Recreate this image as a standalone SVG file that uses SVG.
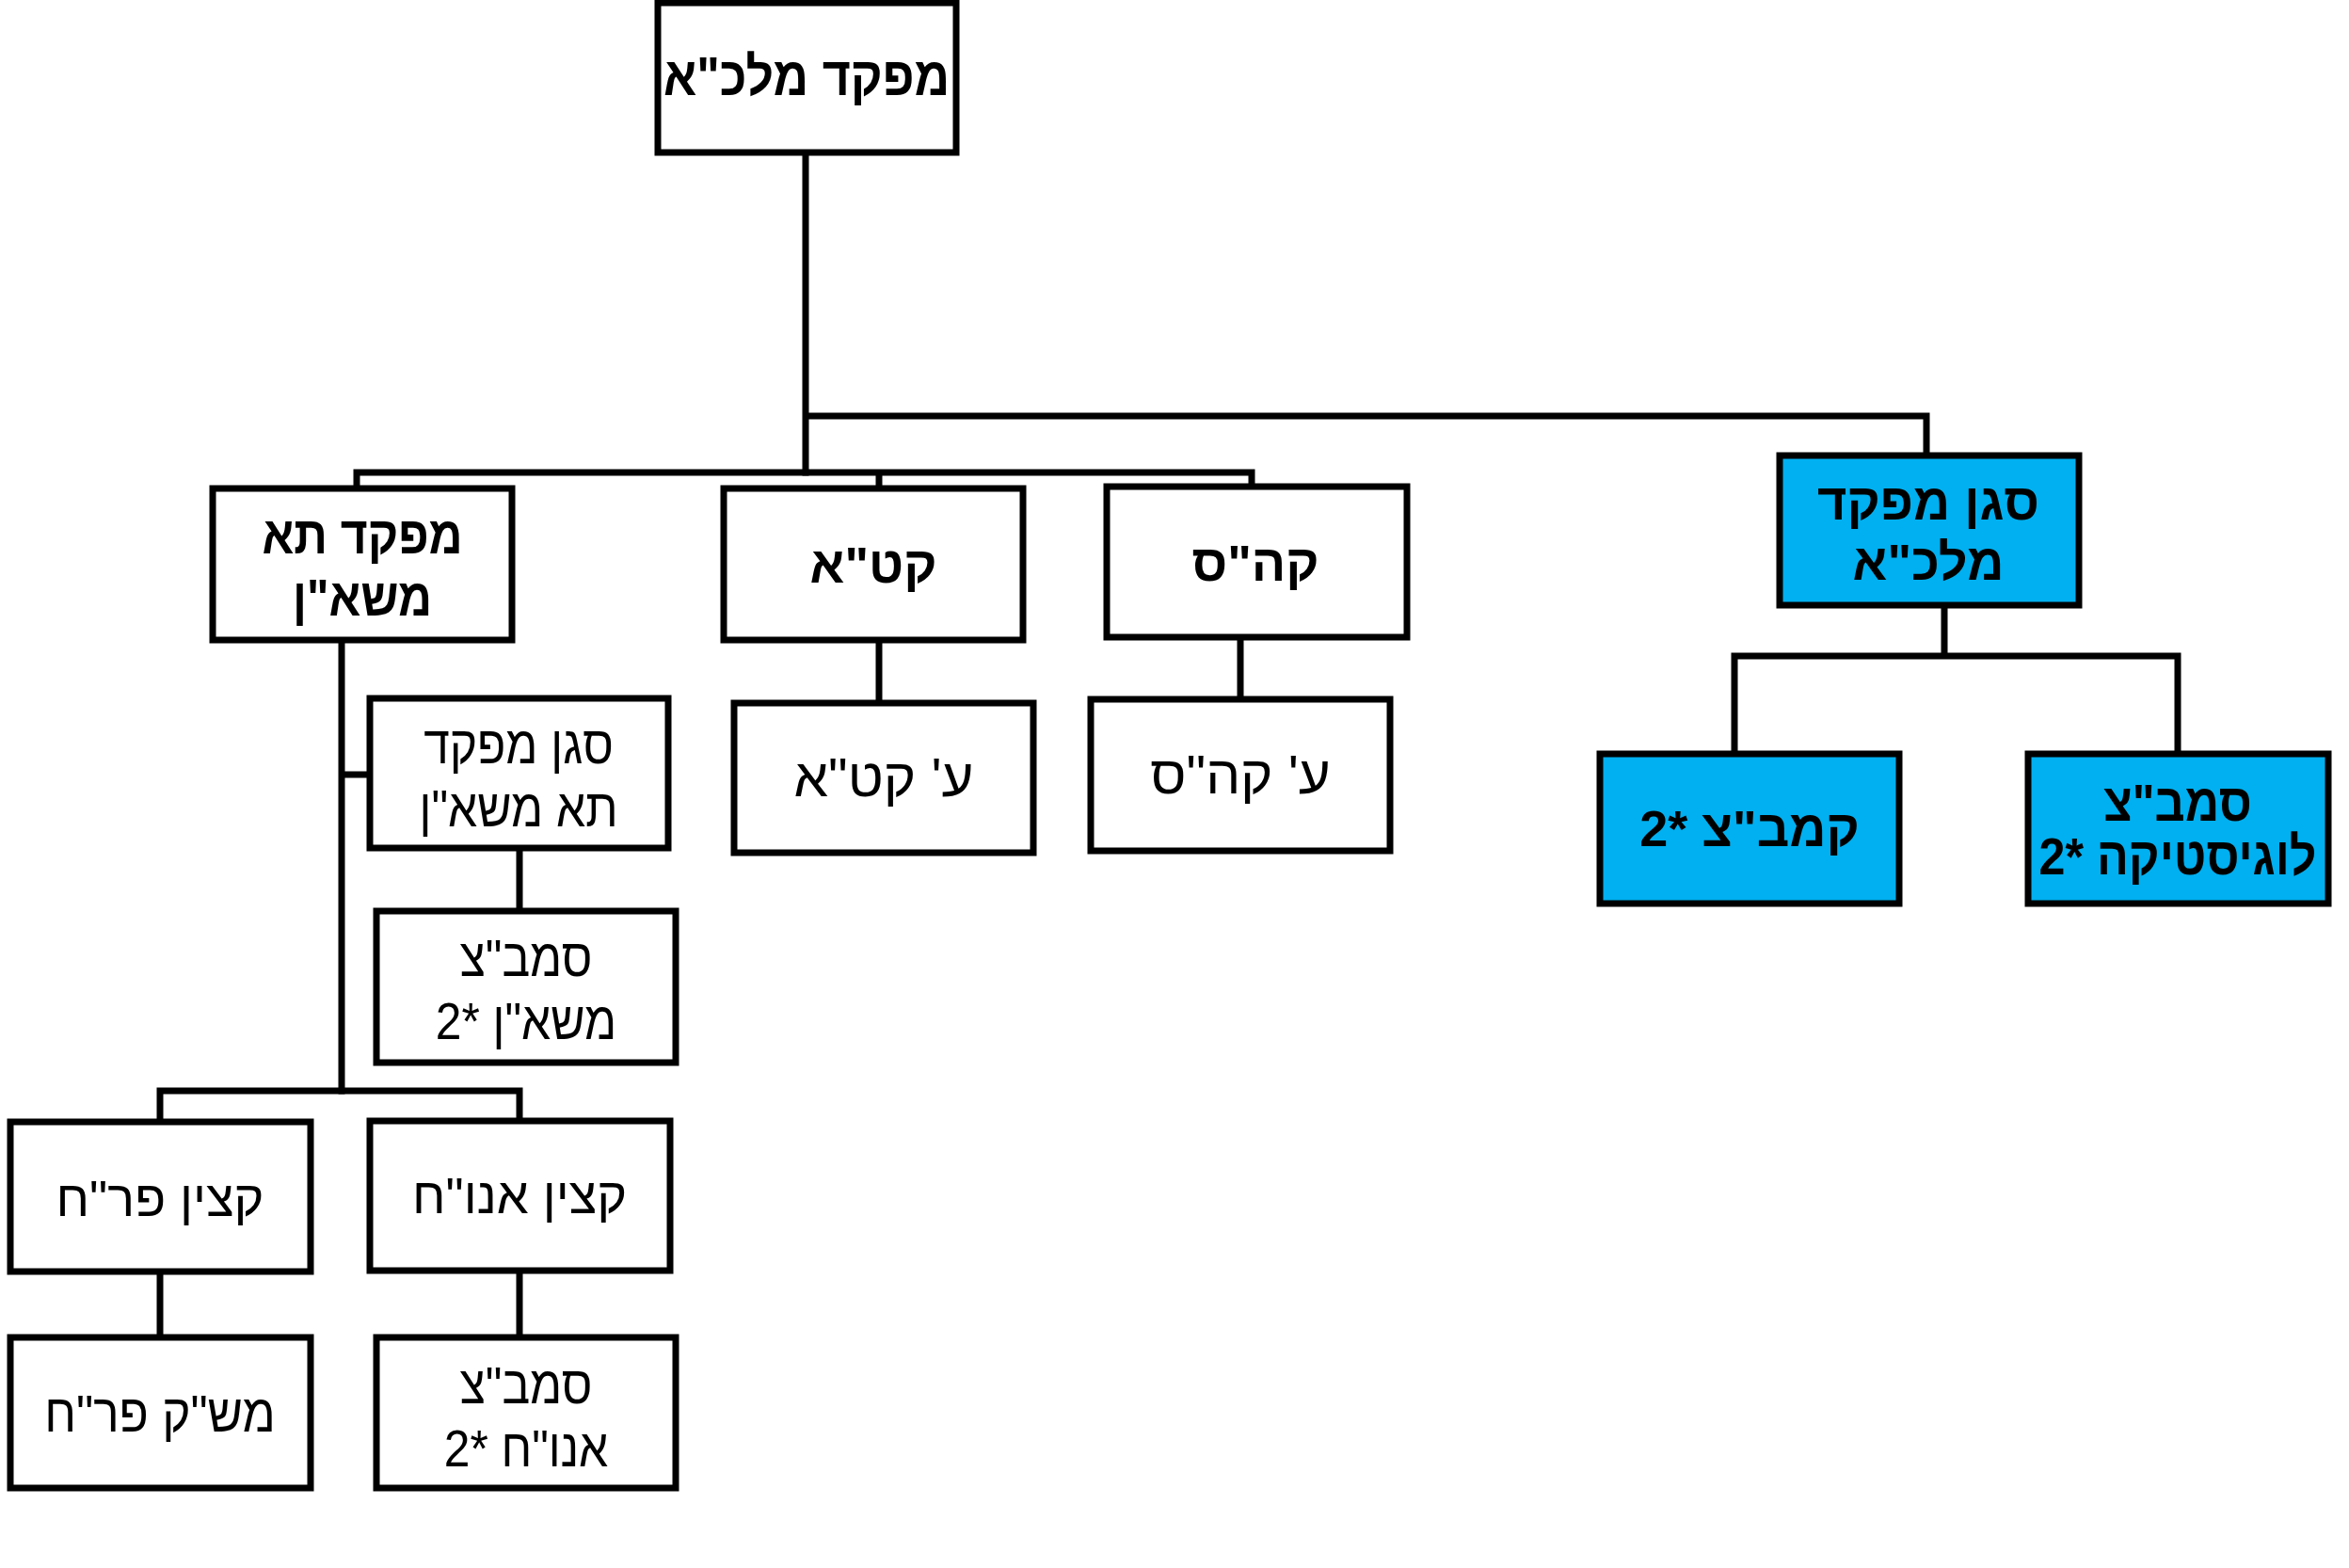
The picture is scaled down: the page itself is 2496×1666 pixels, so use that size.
<svg xmlns="http://www.w3.org/2000/svg" width="2496" height="1666" viewBox="0 0 2496 1666">
<style>
.box{fill:#fff;stroke:#000;stroke-width:7}
.blue{fill:#00B0F0;stroke:#000;stroke-width:7}
.ln{fill:none;stroke:#000;stroke-width:7;stroke-linecap:square}
text{font-family:"Liberation Sans","DejaVu Sans",sans-serif;font-size:54px;fill:#000;text-anchor:middle;direction:rtl;dominant-baseline:central}
.b{font-weight:bold}
</style>
<rect width="2496" height="1666" fill="#fff"/>
<g id="connectors">
<path class="ln" d="M856 162V502M856 442H2047V484"/>
<path class="ln" d="M379 519V502H1330V517M934 502V519"/>
<path class="ln" d="M934 680V747M1318 677V743"/>
<path class="ln" d="M2066 643V697M1843 801V697H2314V801"/>
<path class="ln" d="M363 680V1159M363 823H393M552 901V968"/>
<path class="ln" d="M170 1192V1159H552V1191"/>
<path class="ln" d="M170 1351V1421M552 1350V1421"/>
</g>
<g id="n-top"><rect class="box" x="699" y="3" width="317" height="159"/><text class="b" transform="translate(857 82) scale(0.96 1.06)">מפקד מלכ"א</text></g>
<g id="n-mashan"><rect class="box" x="226" y="519" width="318" height="161"/><text class="b" transform="translate(385 568) scale(0.92 1.04)">מפקד תא</text><text class="b" transform="translate(385 634) scale(0.92 1.04)">משא"ן</text></g>
<g id="n-kata"><rect class="box" x="769" y="519" width="318" height="161"/><text class="b" x="928" y="600">קט"א</text></g>
<g id="n-kahas"><rect class="box" x="1176" y="517" width="319" height="160"/><text class="b" x="1334" y="598">קה"ס</text></g>
<g id="n-deputy"><rect class="blue" x="1891" y="484" width="318" height="159"/><text class="b" x="2049" y="533">סגן מפקד</text><text class="b" x="2049" y="597">מלכ"א</text></g>
<g id="n-ekata"><rect class="box" x="780" y="747" width="318" height="159"/><text transform="translate(939 826) scale(1.08 1.05)">ע' קט"א</text></g>
<g id="n-ekahas"><rect class="box" x="1159" y="743" width="318" height="161"/><text transform="translate(1318 823) scale(1.08 1.05)">ע' קה"ס</text></g>
<g id="n-kambatz"><rect class="blue" x="1700" y="801" width="318" height="159"/><text class="b" x="1859" y="880">קמב"צ *2</text></g>
<g id="n-logistics"><rect class="blue" x="2155" y="801" width="319" height="159"/><text class="b" transform="translate(2314 852) scale(0.93 1.04)">סמב"צ</text><text class="b" transform="translate(2314 909) scale(0.93 1.04)">לוגיסטיקה *2</text></g>
<g id="n-deputy-mashan"><rect class="box" x="393" y="742" width="317" height="159"/><text transform="translate(551 791) scale(0.92 1.04)">סגן מפקד</text><text transform="translate(551 858) scale(0.92 1.04)">תא משא"ן</text></g>
<g id="n-sambatz-mashan"><rect class="box" x="400" y="968" width="318" height="161"/><text transform="translate(559 1017) scale(0.92 1.04)">סמב"צ</text><text transform="translate(559 1084) scale(0.92 1.04)">משא"ן *2</text></g>
<g id="n-parah"><rect class="box" x="11" y="1192" width="319" height="159"/><text x="170" y="1273">קצין פר"ח</text></g>
<g id="n-anoah"><rect class="box" x="393" y="1191" width="319" height="159"/><text x="552" y="1270">קצין אנו"ח</text></g>
<g id="n-mashak"><rect class="box" x="11" y="1421" width="319" height="160"/><text transform="translate(170 1501) scale(0.95 1.04)">מש"ק פר"ח</text></g>
<g id="n-sambatz-anoah"><rect class="box" x="400" y="1421" width="318" height="160"/><text transform="translate(559 1471) scale(0.92 1.04)">סמב"צ</text><text transform="translate(559 1538) scale(0.92 1.04)">אנו"ח *2</text></g>
</svg>
